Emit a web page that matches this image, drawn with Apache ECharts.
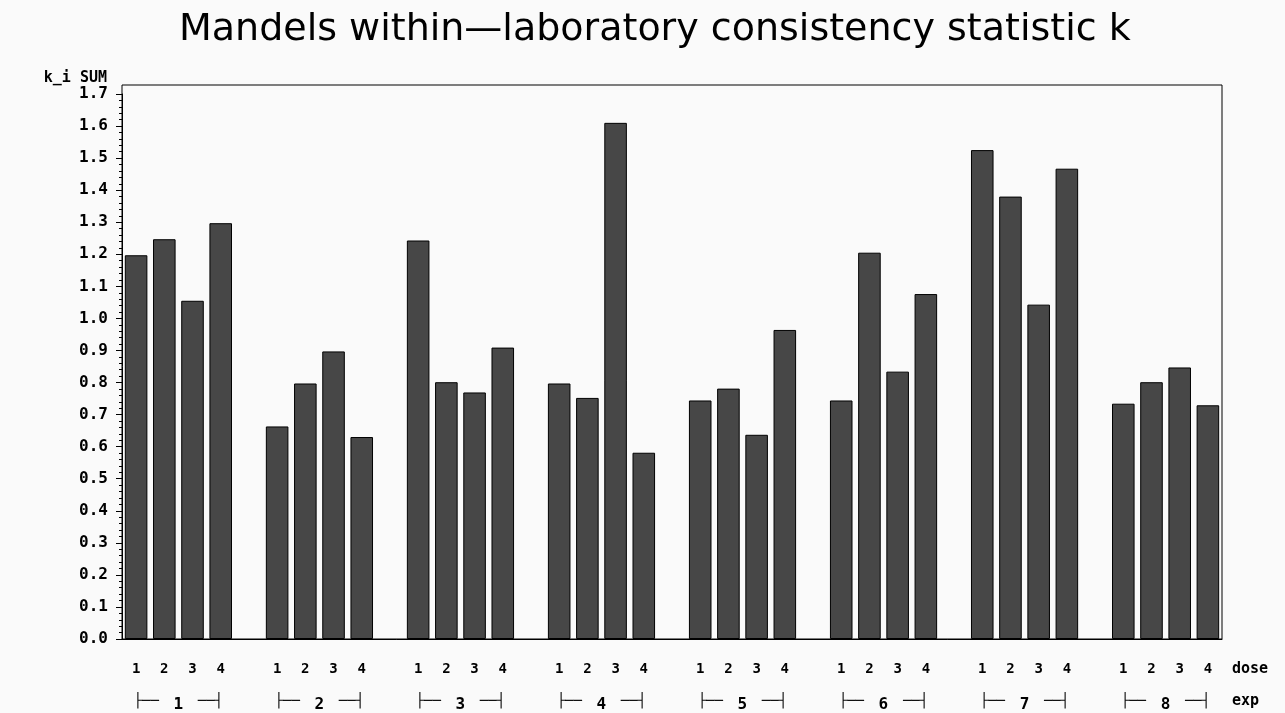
<!DOCTYPE html>
<html>
<head>
<meta charset="utf-8">
<script src="https://cdn.jsdelivr.net/npm/echarts@6/dist/echarts.min.js"></script>
<style>
html,body{margin:0;padding:0;background:#fafafa;}
#chart{width:1285px;height:713px;}
</style>
</head>
<body>
<div id="chart"></div>
<script>
// ---- data ----
const titleText = 'Mandels within\u2014laboratory consistency statistic k';
const yName = 'k_i SUM';
const exps = ['1', '2', '3', '4', '5', '6', '7', '8'];
const doses = ['1', '2', '3', '4'];
const kExp1 = [1.197, 1.247, 1.055, 1.297];
const kExp2 = [0.663, 0.797, 0.897, 0.630];
const kExp3 = [1.243, 0.801, 0.769, 0.909];
const kExp4 = [0.797, 0.752, 1.610, 0.581];
const kExp5 = [0.744, 0.781, 0.637, 0.964];
const kExp6 = [0.744, 1.205, 0.834, 1.076];
const kExp7 = [1.525, 1.380, 1.043, 1.467];
const kExp8 = [0.734, 0.801, 0.847, 0.729];
const kByExp = [kExp1, kExp2, kExp3, kExp4, kExp5, kExp6, kExp7, kExp8];

// ---- build slot table: 4 dose bars per exp, one empty slot between exps ----
const slots = [];      // category keys
const slotDose = [];   // dose label per slot
const slotExp = [];    // exp label per slot
const slotVals = [];
exps.forEach(function (e, gi) {
  doses.forEach(function (d, di) {
    slots.push('e' + e + 'd' + d);
    slotDose.push(d);
    slotExp.push(e);
    slotVals.push(kByExp[gi][di]);
  });
  if (gi < exps.length - 1) {
    slots.push('e' + e + 'gap');
    slotDose.push('');
    slotExp.push('');
    slotVals.push('-');
  }
});

const axisFont = 'DejaVu Sans Mono';
const chart = echarts.init(document.getElementById('chart'), null, {renderer: 'canvas'});
chart.setOption({
  animation: false,
  backgroundColor: '#fafafa',
  title: {
    text: titleText,
    left: 174,
    top: 6,
    textStyle: {fontFamily: 'DejaVu Sans', fontWeight: 'normal', fontSize: 38, color: '#000'}
  },
  grid: [
    {left: 122, right: 63, top: 94, bottom: 74, show: false},
    {left: 122, right: 63, top: 85, bottom: 74, show: true, borderColor: '#000', borderWidth: 1, backgroundColor: 'transparent'}
  ],
  xAxis: [
    {
      type: 'category', gridIndex: 0, data: slots, boundaryGap: true,
      axisLine: {show: true, lineStyle: {color: '#000', width: 1}},
      axisTick: {show: false}, axisLabel: {show: false}, splitLine: {show: false}
    },
    {
      type: 'category', gridIndex: 0, data: slots, position: 'bottom', offset: 30,
      axisLine: {show: false}, axisTick: {show: false}, splitLine: {show: false},
      axisLabel: {
        show: true, interval: 0, margin: 0, verticalAlign: 'middle',
        fontFamily: axisFont, fontWeight: 'bold', fontSize: 14, color: '#000',
        formatter: function (v, i) { return slotDose[i]; }
      },
      name: 'dose', nameLocation: 'end', nameGap: 10,
      nameTextStyle: {fontFamily: axisFont, fontWeight: 'bold', fontSize: 15, color: '#000', align: 'left', verticalAlign: 'middle'}
    },
    {
      type: 'category', gridIndex: 0, data: slots, position: 'bottom', offset: 62,
      axisLine: {show: false}, axisTick: {show: false}, splitLine: {show: false},
      axisLabel: {
        show: true, margin: 0, verticalAlign: 'middle', color: '#000',
        padding: [0, 0, 0, 28],
        interval: function (i) { return slotDose[i] === doses[1]; },
        formatter: function (v, i) { return '{br|\u251C\u2500\u2500}{n| ' + slotExp[i] + ' }{br|\u2500\u2500\u2524}'; },
        rich: {
          br: {fontFamily: 'DejaVu Sans Mono', fontSize: 14, fontWeight: 'normal', color: '#000'},
          n: {fontFamily: axisFont, fontSize: 16, fontWeight: 'bold', color: '#000', padding: [8, 5, 0, 5]}
        }
      },
      name: 'exp', nameLocation: 'end', nameGap: 10,
      nameTextStyle: {fontFamily: axisFont, fontWeight: 'bold', fontSize: 15, color: '#000', align: 'left', verticalAlign: 'middle', padding: [6, 0, 0, 0]}
    },
    {type: 'value', gridIndex: 1, show: false, min: 0, max: 1}
  ],
  yAxis: [
    {
      type: 'value', gridIndex: 0, min: 0, max: 1.7, interval: 0.1,
      axisLine: {show: true, lineStyle: {color: '#000', width: 1}},
      axisTick: {show: true, length: 6, lineStyle: {color: '#000'}},
      minorTick: {show: true, splitNumber: 5, length: 3, lineStyle: {color: '#000'}},
      splitLine: {show: false}, minorSplitLine: {show: false},
      axisLabel: {
        margin: 14, fontFamily: axisFont, fontWeight: 'bold', fontSize: 16, color: '#000',
        formatter: function (v) { return v.toFixed(1); }
      },
      name: yName, nameLocation: 'end', nameGap: 7,
      nameTextStyle: {fontFamily: axisFont, fontWeight: 'bold', fontSize: 15, color: '#000', align: 'right', verticalAlign: 'bottom', padding: [0, 15, 0, 0]}
    },
    {type: 'value', gridIndex: 1, show: false, min: 0, max: 1}
  ],
  series: [{
    type: 'bar', xAxisIndex: 0, yAxisIndex: 0,
    data: slotVals,
    barCategoryGap: '20%',
    itemStyle: {color: '#474747', borderColor: '#000', borderWidth: 1},
    silent: true
  }]
});
</script>
</body>
</html>
